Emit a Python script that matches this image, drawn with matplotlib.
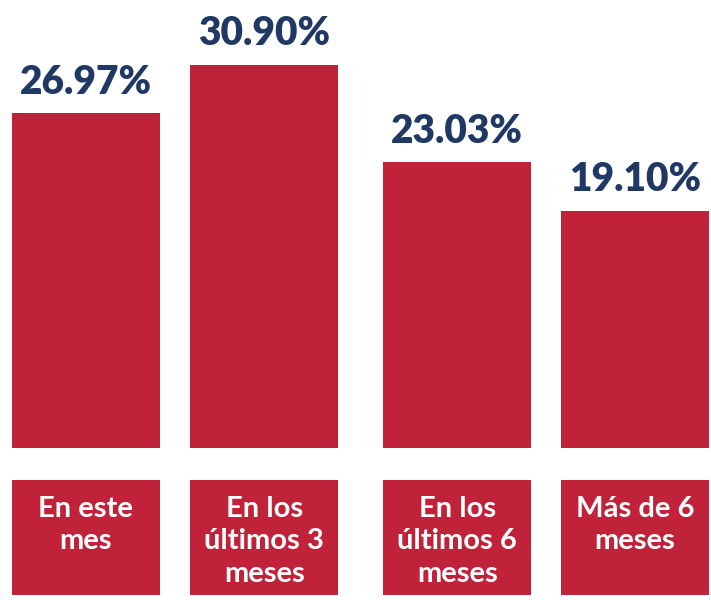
import matplotlib.pyplot as plt

categories = ['En este\nmes', 'En los\núltimos 3\nmeses', 'En los\núltimos 6\nmeses', 'Más de 6\nmeses']
values = [26.97, 30.90, 23.03, 19.10]
value_labels = ['26.97%', '30.90%', '23.03%', '19.10%']

# layout: bar centres in units of bar width (reference spacing is uneven)
positions = [0.58, 1.785, 3.09, 4.29]
RED = '#C0223A'
NAVY = '#1F3864'
FONT = 'Lato'

fig = plt.figure(figsize=(7.11, 6), dpi=100)

# main bars
ax = fig.add_axes([0, 152 / 600, 1, 448 / 600])
ax.bar(positions, values, width=1.0, color=RED)
for x, v, lab in zip(positions, values, value_labels):
    ax.annotate(lab, (x, v), xytext=(0, 9), textcoords='offset points',
                ha='center', va='bottom', fontsize=28, fontweight='heavy',
                color=NAVY, family=FONT)
ax.set_xlim(0, 711 / 148)
ax.set_ylim(0, 36.1)
ax.axis('off')

# category label boxes
ax2 = fig.add_axes([0, 5 / 600, 1, 115 / 600])
ax2.bar(positions, [1] * len(positions), width=1.0, color=RED)
for x, cat in zip(positions, categories):
    ax2.text(x, 0.86, cat, ha='center', va='top', fontsize=21,
             fontweight='bold', color='white', family=FONT, linespacing=1.3)
ax2.set_xlim(0, 711 / 148)
ax2.set_ylim(0, 1)
ax2.axis('off')

fig.savefig('out.png', dpi=100)
